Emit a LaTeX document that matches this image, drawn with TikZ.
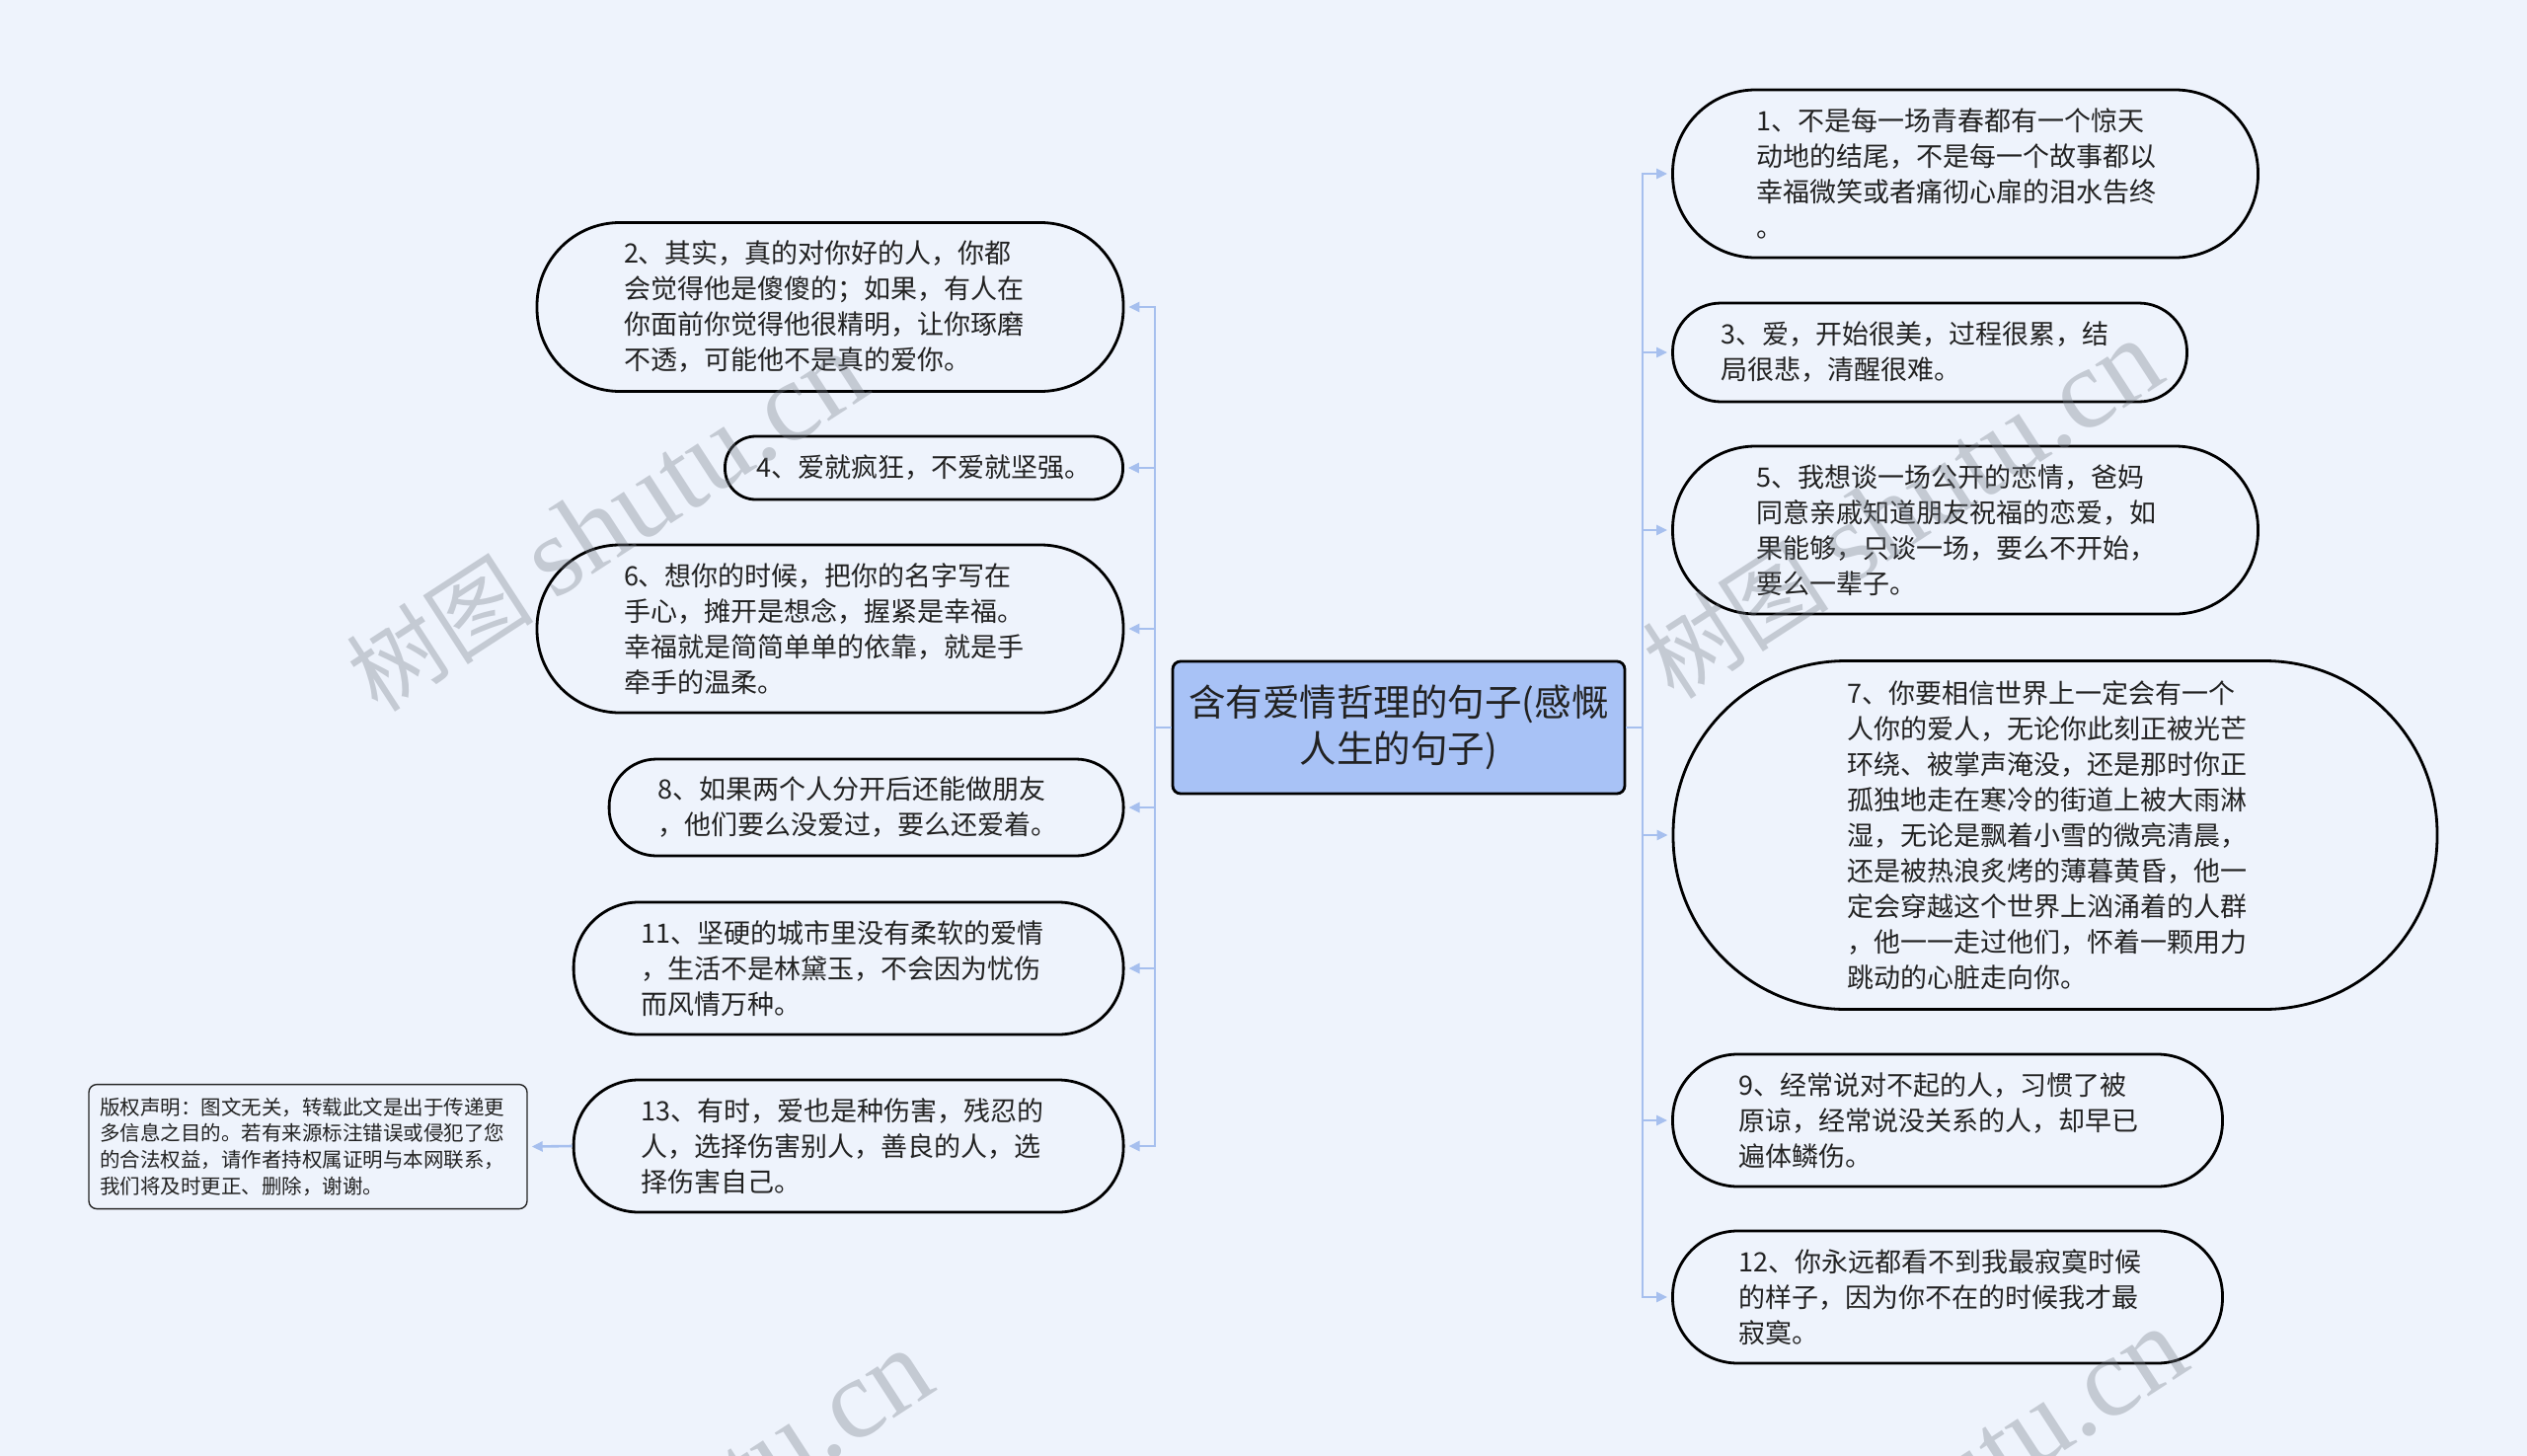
\documentclass[tikz,border=0pt]{standalone}
\usepackage{fontspec}
\setmainfont{Noto Sans CJK SC}
\newfontfamily\wmlatin{Liberation Serif}
\usetikzlibrary{arrows.meta}
\definecolor{bgc}{HTML}{EEF3FC}
\definecolor{hubc}{HTML}{A8C2F6}
\definecolor{linkc}{HTML}{A6BFEE}
\definecolor{txtc}{HTML}{222222}
\definecolor{wmc}{RGB}{119,126,137}
\begin{document}
\begin{tikzpicture}[x=1pt,y=-1pt,
  leaf/.style={draw=black, line width=2.8pt, fill=bgc, inner sep=0pt, align=left,
    text=txtc, font=\fontsize{27pt}{36pt}\selectfont},
  hub/.style={draw=black, line width=2.8pt, fill=hubc, inner sep=0pt, align=center,
    rounded corners=8pt, text=txtc, font=\fontsize{37.5pt}{47pt}\selectfont,
    minimum width=458pt, minimum height=134pt},
  note/.style={draw=black!85, line width=1.4pt, fill=bgc, inner sep=0pt, align=left,
    rounded corners=8pt, text=txtc, font=\fontsize{20.5pt}{26.6pt}\selectfont},
  link/.style={draw=linkc, line width=2.6pt},
  arr/.style={-{Triangle[length=11pt,width=10pt]}, shorten >=4pt},
  wmark/.style={rotate=33, text=wmc, opacity=0.35, inner sep=0pt}
]
\useasboundingbox (0,0) rectangle (2560,1475);
\fill[bgc] (0,0) rectangle (2560,1475);

% central node
\node[hub] (c) at (1417,737) {含有爱情哲理的句子(感慨\\人生的句子)};

% right side
\node[leaf, minimum width=593pt, minimum height=170pt, text width=423pt, rounded corners=84pt] (n1) at (1991,176)
 {1、不是每一场青春都有一个惊天\\动地的结尾，不是每一个故事都以\\幸福微笑或者痛彻心扉的泪水告终\\。};
\node[leaf, minimum width=521pt, minimum height=100pt, text width=423pt, rounded corners=49pt] (n3) at (1955,357)
 {3、爱，开始很美，过程很累，结\\局很悲，清醒很难。};
\node[leaf, minimum width=593pt, minimum height=170pt, text width=423pt, rounded corners=84pt] (n5) at (1991,537)
 {5、我想谈一场公开的恋情，爸妈\\同意亲戚知道朋友祝福的恋爱，如\\果能够，只谈一场，要么不开始，\\要么一辈子。};
\node[leaf, minimum width=774pt, minimum height=353pt, text width=421pt, rounded corners=175pt] (n7) at (2082,846)
 {7、你要相信世界上一定会有一个\\人你的爱人，无论你此刻正被光芒\\环绕、被掌声淹没，还是那时你正\\孤独地走在寒冷的街道上被大雨淋\\湿，无论是飘着小雪的微亮清晨，\\还是被热浪炙烤的薄暮黄昏，他一\\定会穿越这个世界上汹涌着的人群\\，他一一走过他们，怀着一颗用力\\跳动的心脏走向你。};
\node[leaf, minimum width=557pt, minimum height=134pt, text width=423pt, rounded corners=66pt] (n9) at (1973,1135)
 {9、经常说对不起的人，习惯了被\\原谅，经常说没关系的人，却早已\\遍体鳞伤。};
\node[leaf, minimum width=557pt, minimum height=134pt, text width=423pt, rounded corners=66pt] (n12) at (1973,1314)
 {12、你永远都看不到我最寂寞时候\\的样子，因为你不在的时候我才最\\寂寞。};

% left side
\node[leaf, minimum width=594pt, minimum height=171pt, text width=418pt, rounded corners=84pt] (n2) at (841,311)
 {2、其实，真的对你好的人，你都\\会觉得他是傻傻的；如果，有人在\\你面前你觉得他很精明，让你琢磨\\不透，可能他不是真的爱你。};
\node[leaf, minimum width=403pt, minimum height=64pt, align=center, rounded corners=31pt] (n4) at (936,474)
 {4、爱就疯狂，不爱就坚强。};
\node[leaf, minimum width=594pt, minimum height=170pt, text width=418pt, rounded corners=84pt] (n6) at (841,637)
 {6、想你的时候，把你的名字写在\\手心，摊开是想念，握紧是幸福。\\幸福就是简简单单的依靠，就是手\\牵手的温柔。};
\node[leaf, minimum width=521pt, minimum height=98pt, text width=423pt, rounded corners=48pt] (n8) at (877.6,818)
 {8、如果两个人分开后还能做朋友\\，他们要么没爱过，要么还爱着。};
\node[leaf, minimum width=557pt, minimum height=134pt, text width=420pt, rounded corners=66pt] (n11) at (859.6,981)
 {11、坚硬的城市里没有柔软的爱情\\，生活不是林黛玉，不会因为忧伤\\而风情万种。};
\node[leaf, minimum width=557pt, minimum height=134pt, text width=420pt, rounded corners=66pt] (n13) at (859.6,1161)
 {13、有时，爱也是种伤害，残忍的\\人，选择伤害别人，善良的人，选\\择伤害自己。};

% copyright note
\node[note, minimum width=444pt, minimum height=126pt, text width=422pt] (cr) at (312,1161.6)
 {版权声明：图文无关，转载此文是出于传递更\\多信息之目的。若有来源标注错误或侵犯了您\\的合法权益，请作者持权属证明与本网联系，\\我们将及时更正、删除，谢谢。};

% connectors
\coordinate (lb) at (1170,737);
\coordinate (rb) at (1664,737);
\draw[link] (c.west) -- (lb);
\draw[link] (c.east) -- (rb);
\foreach \n in {n2,n4,n6,n8,n11,n13} {\draw[link,arr] (lb) |- (\n.east);}
\foreach \n in {n1,n3,n5,n7,n9,n12} {\draw[link,arr] (rb) |- (\n.west);}
\draw[link,arr] (n13.west) -- (cr.east);

% watermarks
\node[wmark] (w1) at (615,530) {\fontsize{95pt}{95pt}\selectfont 树图 {\wmlatin\fontsize{115pt}{115pt}\selectfont shutu.cn}};
\node[wmark] (w2) at (1927,517) {\fontsize{95pt}{95pt}\selectfont 树图 {\wmlatin\fontsize{115pt}{115pt}\selectfont shutu.cn}};
\node[wmark] (w3) at (681,1540) {\fontsize{95pt}{95pt}\selectfont 树图 {\wmlatin\fontsize{115pt}{115pt}\selectfont shutu.cn}};
\node[wmark] (w4) at (1952,1518) {\fontsize{95pt}{95pt}\selectfont 树图 {\wmlatin\fontsize{115pt}{115pt}\selectfont shutu.cn}};
\end{tikzpicture}
\end{document}
